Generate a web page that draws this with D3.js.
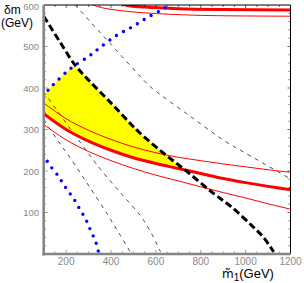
<!DOCTYPE html>
<html>
<head>
<meta charset="utf-8">
<script src="https://cdn.jsdelivr.net/npm/d3@7"></script>
<style>
  body { margin: 0; background: #fff; }
  svg { display: block; font-family: "Liberation Sans", Arial, sans-serif; }
</style>
</head>
<body>
<div id="chart"></div>
<script>
// tick labels
const xTicks = [200, 400, 600, 800, 1000, 1200];
const yTicks = [100, 200, 300, 400, 500, 600];

// red band (central value and the two thin limits), sampled on mGrid
const mGrid = [100, 200, 300, 400, 500, 600, 700, 800, 900, 1000, 1100, 1200];
const redCentral = [338, 300, 272, 250, 232, 218, 206, 194, 182, 172, 163, 155];
const redUpper = [364, 326, 298, 276, 258, 244, 233, 225, 217, 210, 203, 197];
const redLower = [312, 275, 247, 225, 206, 190, 176, 162, 148, 135, 121, 108];

// second branch of the red band near the top edge
const topRedThick = [[440, 606], [465, 600], [550, 595], [700, 591], [900, 589], [1200, 588]];
const topRedThin = [[300, 604], [321, 600], [354, 594], [450, 586], [582, 580], [800, 575], [1200, 573]];

// blue dotted boundaries
const blueLower = [[97, 240], [130, 212], [165, 188], [186, 170], [208, 152], [231, 136], [250, 118],
                   [270, 100], [289, 82], [304, 63], [321, 43], [335, 24], [344, 5]];
const blueUpper = [[100, 378], [120, 395], [150, 412], [200, 438], [240, 455], [300, 476], [350, 497],
                   [423, 526], [490, 546], [557, 568], [624, 588], [656, 598], [670, 603]];

// thick black dashed
const blackThick = [[100, 573], [170, 513], [240, 455], [300, 419], [400, 364], [485, 315], [530, 291],
                    [634, 243], [731, 202], [852, 148], [940, 112], [1030, 67], [1080, 40], [1125, 5]];

// thin black dashed contours
const dashL1 = [[100, 323], [165, 272], [225, 226], [300, 165], [381, 98], [430, 55], [478, 12], [485, 5]];
const dashL2 = [[100, 391], [217, 303], [322, 226], [359, 200], [450, 143], [530, 93], [580, 50], [621, 5]];
const dashA = [[240, 600], [400, 505], [560, 411], [584, 399], [750, 333], [911, 271], [1000, 243], [1200, 181]];

const width = 304, height = 283;
const x = d3.scaleLinear().domain([100, 1200]).range([43.7, 290.5]);
const y = d3.scaleLinear().domain([0, 600]).range([254, 5]);

const svg = d3.select('#chart').append('svg')
    .attr('width', width)
    .attr('height', height);

const defs = svg.append('defs');
defs.append('clipPath').attr('id', 'plot')
    .append('rect')
    .attr('x', x(100)).attr('y', y(600))
    .attr('width', x(1200) - x(100)).attr('height', y(0) - y(600));

const line = d3.line().x(d => x(d[0])).y(d => y(d[1])).curve(d3.curveCatmullRom.alpha(0.5));
const redPts = arr => mGrid.map((m, i) => [m, arr[i]]);

// clip regions: below the upper blue curve, below the black curve
defs.append('clipPath').attr('id', 'underBlue')
    .append('path')
    .attr('d', line(blueUpper) + `L${x(1200)},${y(620)}L${x(1200)},${y(0)}L${x(100)},${y(0)}Z`);
defs.append('clipPath').attr('id', 'underBlack')
    .append('path')
    .attr('d', line(blackThick) + `L${x(100)},${y(0)}Z`);

const plot = svg.append('g').attr('clip-path', 'url(#plot)');

// yellow allowed region
plot.append('g').attr('clip-path', 'url(#underBlue)')
    .append('g').attr('clip-path', 'url(#underBlack)')
    .append('path')
    .datum(redPts(redCentral))
    .attr('fill', '#ffff00')
    .attr('d', d3.area().x(d => x(d[0])).y0(d => y(d[1])).y1(y(600)).curve(d3.curveCatmullRom.alpha(0.5)));

// thin dashed contours
plot.append('g').selectAll('path')
    .data([dashL1, dashL2, dashA])
    .enter().append('path')
    .attr('d', line)
    .attr('fill', 'none')
    .attr('stroke', '#222')
    .attr('stroke-width', 0.8)
    .attr('stroke-dasharray', '4 4.5');

// red band
plot.append('g').selectAll('path')
    .data([redPts(redUpper), redPts(redLower), topRedThin])
    .enter().append('path')
    .attr('d', line)
    .attr('fill', 'none')
    .attr('stroke', '#ff0000')
    .attr('stroke-width', 1);
plot.append('g').selectAll('path')
    .data([redPts(redCentral), topRedThick])
    .enter().append('path')
    .attr('d', line)
    .attr('fill', 'none')
    .attr('stroke', '#ff0000')
    .attr('stroke-width', 3);

// blue dotted
plot.append('g').selectAll('path')
    .data([blueLower, blueUpper])
    .enter().append('path')
    .attr('d', line)
    .attr('fill', 'none')
    .attr('stroke', '#0000ff')
    .attr('stroke-width', 3.4)
    .attr('stroke-linecap', 'round')
    .attr('stroke-dasharray', '0 8');

// thick black dashed
plot.append('path')
    .datum(blackThick)
    .attr('d', line)
    .attr('fill', 'none')
    .attr('stroke', '#000')
    .attr('stroke-width', 3)
    .attr('stroke-dasharray', '7 3.5');

// frame: thin black top/right, thick gray left/bottom
const axes = svg.append('g');
axes.append('line')
    .attr('x1', x(100)).attr('x2', x(1200)).attr('y1', y(600)).attr('y2', y(600))
    .attr('stroke', '#000').attr('stroke-width', 1);
axes.append('line')
    .attr('x1', x(1200)).attr('x2', x(1200)).attr('y1', y(600)).attr('y2', y(0))
    .attr('stroke', '#000').attr('stroke-width', 1);

// inward ticks on top and right
axes.append('g').selectAll('line')
    .data(d3.range(150, 1200, 50))
    .enter().append('line')
    .attr('x1', d => x(d)).attr('x2', d => x(d))
    .attr('y1', y(600)).attr('y2', d => y(600) + (d % 200 === 0 ? 3 : 2))
    .attr('stroke', '#000').attr('stroke-width', 0.6);
axes.append('g').selectAll('line')
    .data(d3.range(20, 600, 20))
    .enter().append('line')
    .attr('y1', d => y(d)).attr('y2', d => y(d))
    .attr('x1', x(1200)).attr('x2', d => x(1200) - (d % 100 === 0 ? 3 : 2))
    .attr('stroke', '#000').attr('stroke-width', 0.6);

// gray left / bottom axes with inward ticks
const gray = '#858585';
axes.append('g').selectAll('line')
    .data(d3.range(150, 1200, 50))
    .enter().append('line')
    .attr('x1', d => x(d)).attr('x2', d => x(d))
    .attr('y1', y(0)).attr('y2', d => y(0) - (d % 200 === 0 ? 4 : 2.5))
    .attr('stroke', gray).attr('stroke-width', 0.8);
axes.append('g').selectAll('line')
    .data(d3.range(20, 600, 20))
    .enter().append('line')
    .attr('y1', d => y(d)).attr('y2', d => y(d))
    .attr('x1', x(100)).attr('x2', d => x(100) + (d % 100 === 0 ? 4 : 2.5))
    .attr('stroke', gray).attr('stroke-width', 0.8);
axes.append('line')
    .attr('x1', x(100)).attr('x2', x(100)).attr('y1', y(600)).attr('y2', y(0) + 1.5)
    .attr('stroke', gray).attr('stroke-width', 2.6);
axes.append('line')
    .attr('x1', x(100) - 1.3).attr('x2', x(1200)).attr('y1', y(0)).attr('y2', y(0))
    .attr('stroke', gray).attr('stroke-width', 2.6);

// tick labels
axes.append('g').selectAll('text')
    .data(xTicks)
    .enter().append('text')
    .attr('x', d => x(d))
    .attr('y', 265)
    .attr('text-anchor', 'middle')
    .attr('fill', '#8a8a8a')
    .style('font-size', '10px')
    .text(d => d);
axes.append('g').selectAll('text')
    .data(yTicks)
    .enter().append('text')
    .attr('x', 39)
    .attr('y', d => y(d) + (d === 600 ? 4.5 : 3.5))
    .attr('text-anchor', 'end')
    .attr('fill', '#8a8a8a')
    .style('font-size', '9.5px')
    .text(d => d);

// axis titles
svg.append('text')
    .attr('x', 4).attr('y', 14)
    .style('font-size', '12px')
    .text('δm');
svg.append('text')
    .attr('x', 1).attr('y', 27)
    .style('font-size', '12px')
    .text('(GeV)');

const xt = svg.append('text')
    .attr('x', 222).attr('y', 278)
    .style('font-size', '13px');
xt.append('tspan').style('font-family', '"DejaVu Sans", sans-serif').style('font-size', '12px').text('m\u0303');
xt.append('tspan').attr('dy', 3).style('font-size', '10px').text('1');
xt.append('tspan').attr('dy', -3).text('(GeV)');
</script>
</body>
</html>
